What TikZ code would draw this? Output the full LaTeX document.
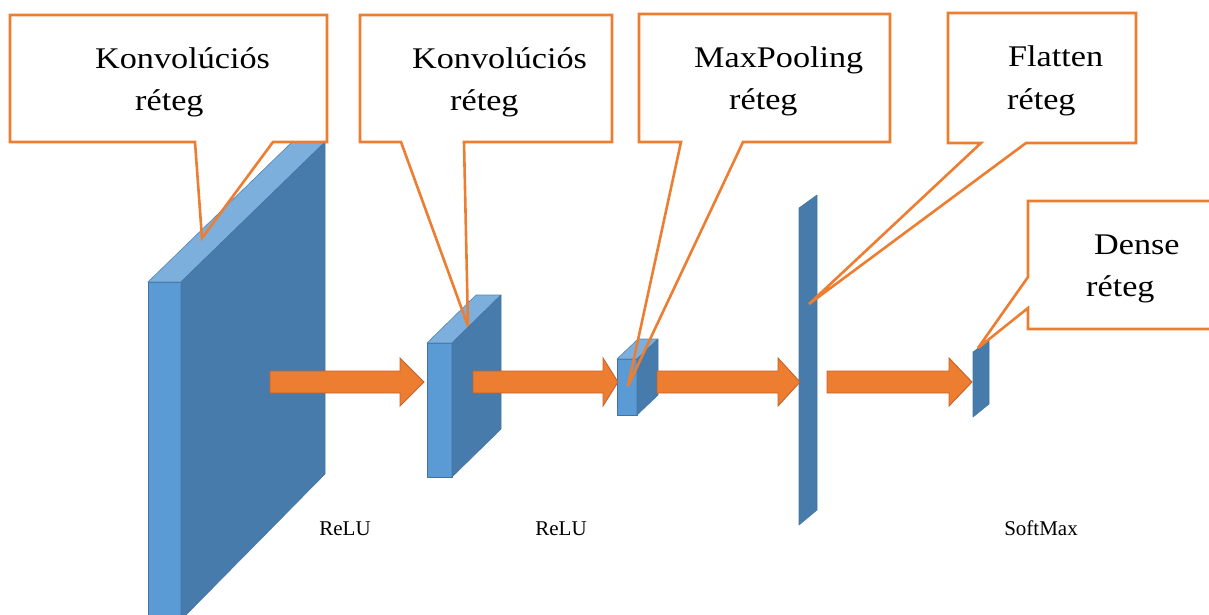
\documentclass[tikz,border=0pt]{standalone}
\usepackage{fontspec}
\usetikzlibrary{calc}
\newfontfamily\calloutfont{Liberation Serif}[FakeStretch=1.14]
\newfontfamily\actfont{Liberation Serif}

\definecolor{frontblue}{HTML}{5B9BD5}
\definecolor{topblue}{HTML}{7DAFDD}
\definecolor{sideblue}{HTML}{477BAB}
\definecolor{edgeblue}{HTML}{4272A0}
\definecolor{floworange}{HTML}{ED7D31}
\definecolor{flowedge}{HTML}{C4622A}
\definecolor{calloutline}{HTML}{ED7D31}

\tikzset{
  frontface/.style={fill=frontblue, draw=edgeblue, line width=0.8pt, line join=round},
  topface/.style={fill=topblue, draw=edgeblue!70!topblue, line width=0.6pt, line join=round},
  sideface/.style={fill=sideblue, draw=edgeblue!60!sideblue, line width=0.6pt, line join=round},
  flow/.style={fill=floworange, draw=flowedge, line width=0.9pt, line join=miter},
  callout/.style={draw=calloutline, line width=2.6pt, line join=miter, miter limit=5},
  caption/.style={font=\calloutfont\fontsize{30pt}{42pt}\selectfont, inner sep=0pt, anchor=base west},
  actlabel/.style={font=\actfont\fontsize{21pt}{24pt}\selectfont, text=black, inner sep=0pt, anchor=base},
}

% block arrow from the start coordinate to the tip coordinate, with head length #3
\newcommand{\flowarrow}[3]{%
  \path[flow] let \p1=(#1), \p2=(#2) in
    (\x1,\y1+11pt) -- (\x2-#3,\y1+11pt) -- (\x2-#3,\y1+24pt) -- (\x2,\y1)
    -- (\x2-#3,\y1-24pt) -- (\x2-#3,\y1-11pt) -- (\x1,\y1-11pt) -- cycle;}

\begin{document}
\begin{tikzpicture}[x=1pt, y=-1pt]
\useasboundingbox (0,0) rectangle (1209,614);

% ---- layer blocks ----
% convolution layer 1
\path[frontface] (148,282) rectangle (181,620);
\path[topface] (148,282) -- (181,282) -- (325,142) -- (292,142) -- cycle;
\path[sideface] (181,282) -- (325,142) -- (325,474) -- (181,620) -- cycle;
% convolution layer 2
\path[frontface] (427,343) rectangle (452,477);
\path[topface] (427,343) -- (452,343) -- (501,295) -- (476,295) -- cycle;
\path[sideface] (452,343) -- (501,295) -- (501,429) -- (452,477) -- cycle;
% max pooling layer
\path[frontface] (617,359) rectangle (637,415);
\path[topface] (617,359) -- (637,359) -- (658,339) -- (638,339) -- cycle;
\path[sideface] (637,359) -- (658,339) -- (658,395) -- (637,415) -- cycle;
% flatten layer
\path[sideface] (799,208) -- (817,195) -- (817,510) -- (799,525) -- cycle;
% dense layer
\path[sideface] (973,352) -- (989,340) -- (989,404) -- (973,417) -- cycle;

% ---- arrow end points ----
\coordinate (a1s) at (270,382);  \coordinate (a1t) at (424,382);
\coordinate (a2s) at (473,382);  \coordinate (a2t) at (618,382);
\coordinate (a3s) at (657,382);  \coordinate (a3t) at (800,382);
\coordinate (a4s) at (827,382);  \coordinate (a4t) at (972,382);

\flowarrow{a1s}{a1t}{24pt}
\flowarrow{a2s}{a2t}{15pt}
\flowarrow{a3s}{a3t}{22pt}
\flowarrow{a4s}{a4t}{23pt}

% ---- activation labels ----
\node[actlabel] (relu1) at (345,535) {ReLU};
\node[actlabel] (relu2) at (561,535) {ReLU};
\node[actlabel] (softmax) at (1041,535) {SoftMax};

% ---- callout pointer tips ----
\coordinate (t1) at (202,238);
\coordinate (t2) at (468,326);
\coordinate (t3) at (628,386);
\coordinate (t4) at (809,304);
\coordinate (t5) at (978,348);

% ---- callouts ----
\fill[white] (10,15) rectangle (327,142);
\path[callout] (10,15) -- (327,15) -- (327,142) -- (273,142) -- (t1) -- (195,142) -- (10,142) -- cycle;
\node[caption] (c1a) at (95,68) {Konvolúciós};
\node[caption] (c1b) at (135,110) {réteg};

\fill[white] (360,15) rectangle (612,142);
\path[callout] (360,15) -- (612,15) -- (612,142) -- (464,142) -- (t2) -- (401,142) -- (360,142) -- cycle;
\node[caption] (c2a) at (412,68) {Konvolúciós};
\node[caption] (c2b) at (450,110) {réteg};

\fill[white] (639,14) rectangle (890,142);
\path[callout] (639,14) -- (890,14) -- (890,142) -- (743,142) -- (t3) -- (681,142) -- (639,142) -- cycle;
\node[caption] (c3a) at (694,67) {MaxPooling};
\node[caption] (c3b) at (729,109) {réteg};

\fill[white] (948,13) rectangle (1136,143);
\path[callout] (948,13) -- (1136,13) -- (1136,143) -- (1026,143) -- (t4) -- (981,143) -- (948,143) -- cycle;
\node[caption] (c4a) at (1008,66) {Flatten};
\node[caption] (c4b) at (1007,109) {réteg};

\fill[white] (1028,201) rectangle (1220,329);
\path[callout] (1028,201) -- (1220,201) -- (1220,329) -- (1028,329) -- (1028,308) -- (t5) -- (1028,277) -- cycle;
\node[caption] (c5a) at (1094,254) {Dense};
\node[caption] (c5b) at (1086,296) {réteg};
\end{tikzpicture}
\end{document}
